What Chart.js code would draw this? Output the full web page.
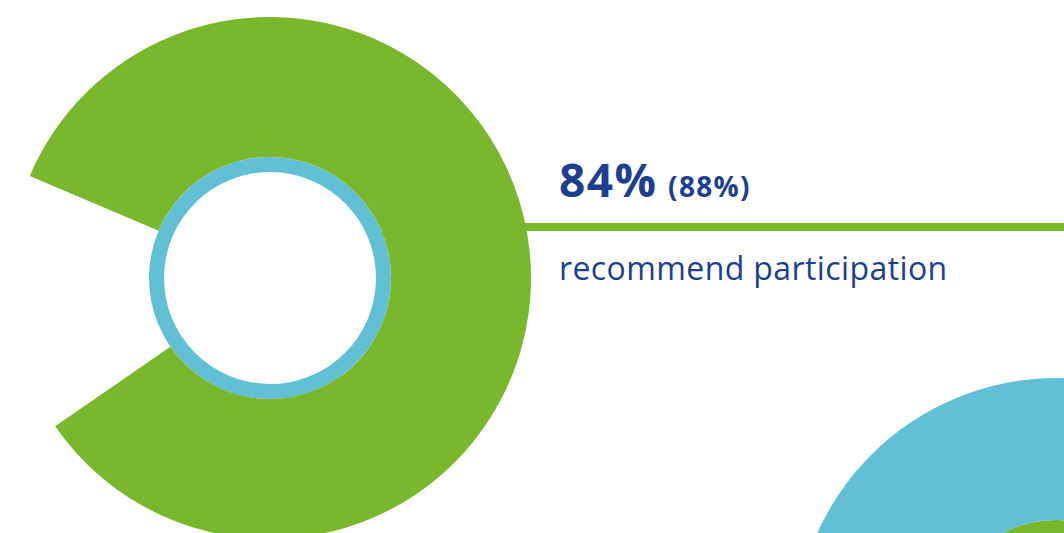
<!DOCTYPE html>
<html>
<head>
<meta charset="utf-8">
<script src="https://cdn.jsdelivr.net/npm/chart.js@4/dist/chart.umd.min.js"></script>
<style>
  html, body { margin: 0; padding: 0; background: #fff; }
  body { width: 1064px; height: 533px; overflow: hidden; position: relative; font-family: 'Open Sans', sans-serif; color: #1c3f94; }
  canvas { position: absolute; }
  #rule { position: absolute; left: 500px; top: 223px; width: 564px; height: 8px; background: #79b82c; }
  #headline { position: absolute; left: 559px; top: 148px; white-space: nowrap; font-weight: 700; }
  #headline .big { font-size: 46px; letter-spacing: 1.5px; }
  #headline .small { font-size: 28px; letter-spacing: 1.3px; margin-left: 2px; }
  #caption { position: absolute; left: 559px; top: 246px; font-size: 32px; letter-spacing: 0.4px; white-space: nowrap; }
</style>
</head>
<body>
<div id="rule"></div>
<canvas id="mainChart" width="522" height="522" style="left:9px; top:17px;"></canvas>
<canvas id="nextChart" width="526" height="526" style="left:794px; top:378px;"></canvas>
<div id="headline"><span class="big" id="valueText"></span><span class="small" id="prevText"></span></div>
<div id="caption"></div>

<script>
// osuus, joka suosittelee osallistumista (suluissa edellinen kierros)
const recommendLabels = ['recommend', 'other'];
const recommendValues = [84, 16];
const previousValue = 88;
const captionText = 'recommend participation';

// seuraava kuvio, josta näkyy vain kulma
const nextValues = [100];

const GREEN = '#79b82c';
const BLUE = '#62c0d6';

document.getElementById('valueText').textContent = recommendValues[0] + '%';
document.getElementById('prevText').textContent = ' (' + previousValue + '%)';
document.getElementById('caption').textContent = captionText;

const baseOptions = {
  responsive: false,
  animation: false,
  events: [],
  layout: { padding: 0 },
  plugins: { legend: { display: false }, tooltip: { enabled: false } },
};

new Chart(document.getElementById('mainChart'), {
  type: 'doughnut',
  data: {
    labels: recommendLabels,
    datasets: [
      {
        data: recommendValues,
        backgroundColor: [GREEN, 'rgba(0,0,0,0)'],
        borderWidth: 0,
        weight: 140,
      },
      {
        data: [100],
        backgroundColor: [BLUE],
        borderWidth: 0,
        weight: 15,
      },
    ],
  },
  options: {
    ...baseOptions,
    cutout: (106 / 261 * 100) + '%',
    rotation: 293,
  },
});

new Chart(document.getElementById('nextChart'), {
  type: 'doughnut',
  data: {
    datasets: [
      {
        data: nextValues,
        backgroundColor: [BLUE],
        borderWidth: 0,
        weight: 142,
      },
      {
        data: [100],
        backgroundColor: [GREEN],
        borderWidth: 0,
        weight: 15,
      },
    ],
  },
  options: {
    ...baseOptions,
    cutout: (106 / 263 * 100) + '%',
  },
});
</script>
</body>
</html>
